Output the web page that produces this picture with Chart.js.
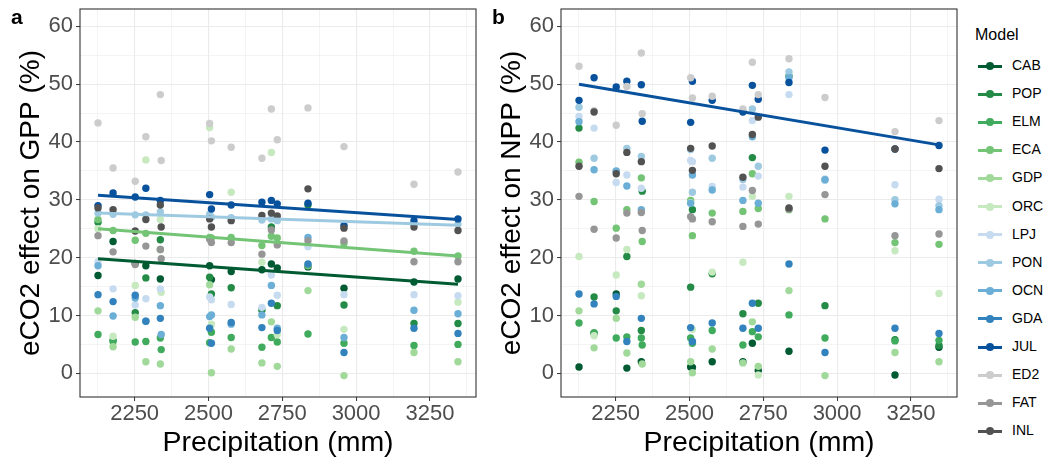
<!DOCTYPE html>
<html>
<head>
<meta charset="utf-8">
<script src="https://cdn.jsdelivr.net/npm/chart.js@4.4.1/dist/chart.umd.min.js"></script>
<style>
  html, body { margin: 0; padding: 0; background: #fff; }
  body { width: 1043px; height: 462px; position: relative; overflow: hidden;
         font-family: 'Liberation Sans', Arial, sans-serif; }
  .panel { position: absolute; top: 0; }
  #panel-a { left: 0; }
  #panel-b { left: 481px; }
  .tag { position: absolute; top: 5px; font-weight: bold; font-size: 21px; color: #000; }
  .legend-title { position: absolute; left: 975px; top: 26px; font-size: 16px; color: #000; }
  .legend-row { position: absolute; left: 976px; height: 20px; }
  .legend-row .line { position: absolute; left: 2px; top: 8.5px; width: 24px; height: 3px; }
  .legend-row .dot { position: absolute; left: 10px; top: 6px; width: 8px; height: 8px; border-radius: 50%; }
  .legend-row .lab { position: absolute; left: 36px; top: 1px; font-size: 14px; color: #000; }
</style>
</head>
<body>
<div class="panel" id="panel-a"><canvas id="chart-gpp" width="481" height="462"></canvas></div>
<div class="panel" id="panel-b"><canvas id="chart-npp" width="481" height="462"></canvas></div>
<div class="tag" style="left: 11px;">a</div>
<div class="tag" style="left: 492px;">b</div>
<div id="legend"></div>

<script>
// Models, in legend order
const MODELS = ['CAB', 'POP', 'ELM', 'ECA', 'GDP', 'ORC', 'LPJ', 'PON', 'OCN', 'GDA', 'JUL', 'ED2', 'FAT', 'INL'];
const MODEL_COLORS = [
  '#005a32', '#238b45', '#41ab5d', '#74c476', '#a1d99b', '#c7e9c0',
  '#c6dbef', '#9ecae1', '#6baed6', '#3182bd', '#08519c',
  '#cccccc', '#969696', '#525252'
];

// Site precipitation (mm)
const SITES = [2126, 2177, 2252, 2288, 2337, 2340, 2504, 2510, 2577, 2681, 2713, 2733, 2837, 2959, 3196, 3345];

// eCO2 effect on GPP (%), one row per model, one column per site
const GPP = [
  [16.9, 22.8, 19.0, 18.6, 16.3, null, 18.6, 16.2, 17.6, 17.9, 18.9, 18.2, 18.4, 14.7, 15.8, 16.3],
  [26.1, 5.7, 10.5, 16.5, 23.1, null, 16.6, 13.7, 14.8, 10.9, 25.3, 11.7, 29.1, 11.8, 8.6, 8.6],
  [6.7, 5.5, 5.4, 5.5, 6.1, 4.1, 5.3, 7.1, 6.2, 4.5, 6.2, 5.4, 6.8, 5.2, 4.8, 5.0],
  [26.6, 24.7, 23.0, 24.2, 21.4, null, 23.5, 23.4, 23.5, 22.1, 23.7, 23.4, 18.6, 22.5, 21.1, 20.3],
  [10.8, 4.6, 9.7, 2.0, 1.6, null, 15.3, 0.1, 4.2, 1.8, 8.9, 1.2, 14.3, -0.4, 3.6, 2.0],
  [25.0, 6.4, 15.2, 36.9, 26.6, 14.0, 42.5, 8.5, 31.3, 19.2, 38.2, 6.7, null, 7.6, null, 12.3],
  [19.3, 14.6, 11.8, 12.9, 14.6, null, 13.2, 12.7, 11.9, 11.4, 17.0, 13.5, 21.9, 13.6, 13.6, 13.4],
  [27.7, 27.5, 27.4, 27.4, 27.9, null, 27.5, 27.0, 26.9, 26.5, 26.7, 26.4, null, 25.7, 25.8, 25.8],
  [18.6, 9.9, 13.0, 9.0, 11.7, 6.7, 9.8, 10.1, 8.5, 10.1, 15.2, 7.8, 23.5, 6.2, 10.9, 10.3],
  [13.6, 12.4, 13.5, 9.0, 9.5, null, 7.8, 5.2, 8.8, 7.9, 12.1, 7.4, 18.9, 3.6, 7.8, 6.9],
  [29.0, 31.2, 30.5, 32.0, 29.9, null, 30.9, 28.4, 29.1, 29.6, 29.9, 29.3, 29.4, 25.5, 26.4, 26.7],
  [43.3, 35.5, 33.2, 40.9, 48.2, 36.8, 43.2, 40.2, 39.1, 37.2, 45.7, 40.4, 45.9, 39.2, 32.7, 34.8],
  [23.8, 21.0, 18.8, 22.0, 21.4, 19.8, 23.2, 22.6, 22.6, 20.6, 24.8, 22.2, 22.9, 22.9, 19.3, 19.3],
  [28.6, 28.3, 24.6, 26.6, 29.1, 25.3, 26.7, 25.3, 26.4, 27.3, 27.7, 27.2, 31.9, 25.1, 25.3, 24.7]
];

// eCO2 effect on NPP (%)
const NPP = [
  [1.1, 6.9, 13.7, 0.9, 2.0, null, 1.1, 1.0, 2.0, 2.0, 5.2, 0.5, 3.8, null, -0.3, 4.5],
  [42.4, 13.2, 10.8, 20.2, 7.4, 31.5, 14.9, 28.3, 17.2, 10.3, 37.3, 12.1, 51.4, 11.7, 5.8, 4.8],
  [8.7, 7.0, 6.1, 6.3, 6.1, 4.9, 6.1, 5.2, 7.4, 4.9, 7.2, 6.3, 10.1, 6.1, 5.6, 5.7],
  [36.5, 29.7, 25.1, 28.3, 33.8, 22.8, 29.9, 23.8, 27.7, 28.0, 34.5, 28.5, 28.3, 26.7, 22.6, 22.3],
  [10.8, 4.4, 9.5, 3.5, 15.4, 1.6, 2.0, 0.1, 4.2, 1.8, 8.9, 1.2, 14.3, -0.4, 3.6, 2.0],
  [20.2, 6.5, 17.0, 21.4, 13.4, null, 29.5, 7.6, 17.5, 19.2, 30.6, -0.3, 30.6, null, 21.2, 13.8],
  [44.4, 42.4, 33.0, 34.3, 32.0, null, 36.8, 36.6, 32.3, 32.2, 43.7, 34.1, 48.2, 33.6, 32.6, 30.1],
  [46.0, 37.2, 34.9, 38.9, 37.5, null, 38.7, 31.3, 37.2, 33.5, 45.7, 35.8, 52.1, 33.4, 30.0, 29.0],
  [43.5, 35.2, 35.0, 32.4, 28.3, null, 29.4, 34.3, 31.7, 29.9, 40.9, 29.4, 51.1, 33.5, 29.3, 28.3],
  [13.7, 12.0, 13.3, 5.5, 9.5, null, 7.9, 5.5, 8.7, 7.8, 12.1, 7.8, 18.9, 3.6, 7.8, 6.9],
  [47.2, 51.1, 49.5, 50.5, 49.9, 43.6, 43.4, 50.5, 47.2, 45.2, 49.8, 47.4, 50.3, 38.6, 38.8, 39.4],
  [53.1, 45.4, 42.9, 49.6, 55.4, 44.9, 51.1, 47.6, 47.9, 45.7, 53.8, 48.2, 54.4, 47.7, 41.8, 43.7],
  [30.6, 24.9, 23.4, 27.7, 27.8, 24.7, 27.1, 26.7, 26.2, 25.4, 31.6, 25.8, 28.4, 30.9, 23.8, 24.1],
  [35.8, 45.2, 34.5, 38.2, 36.6, null, 38.9, 35.1, 39.3, 33.9, 41.3, 44.3, 28.6, 35.8, 38.8, 35.4]
];

// Fitted trend lines (start and end value over the precipitation range)
const TREND_X = [2126, 3345];
const GPP_TREND_MODELS = ['JUL', 'PON', 'ECA', 'CAB'];
const GPP_TRENDS = [[30.8, 26.6], [27.7, 25.6], [25.0, 20.3], [19.8, 15.4]];
const NPP_TREND_MODELS = ['JUL'];
const NPP_TRENDS = [[50.0, 39.5]];

// Axis ticks (major + minor grid)
const X_TICKS = [2125, 2250, 2375, 2500, 2625, 2750, 2875, 3000, 3125, 3250, 3375];
const X_LABELS = [2250, 2500, 2750, 3000, 3250];
const Y_TICKS = [0, 5, 10, 15, 20, 25, 30, 35, 40, 45, 50, 55, 60];
const Y_LABELS = [0, 10, 20, 30, 40, 50, 60];

Chart.defaults.font.family = "'Liberation Sans', Arial, sans-serif";

// Panel border drawn on top, like theme_bw
const panelBorder = {
  id: 'panelBorder',
  afterDraw(chart) {
    const { ctx, chartArea: a } = chart;
    ctx.save();
    ctx.strokeStyle = '#333333';
    ctx.lineWidth = 1.1;
    ctx.strokeRect(a.left, a.top, a.right - a.left, a.bottom - a.top);
    ctx.restore();
  }
};

function gridStyle(labels) {
  const major = c => c.tick && labels.includes(c.tick.value);
  return {
    color: '#ebebeb',
    lineWidth: c => major(c) ? 1.1 : 0.55,
    drawTicks: true,
    tickLength: 4,
    tickWidth: 1,
    tickColor: c => major(c) ? '#333333' : 'rgba(0,0,0,0)'
  };
}

function renderPanel(canvasId, values, trendModels, trends, yTitle) {
  const ctx = document.getElementById(canvasId).getContext('2d');

  const trendSets = trendModels.map((m, k) => ({
    data: TREND_X.map((x, j) => ({ x, y: trends[k][j] })),
    showLine: true,
    borderColor: MODEL_COLORS[MODELS.indexOf(m)],
    borderWidth: 3,
    pointRadius: 0,
    order: 0
  }));

  const pointSets = MODELS.map((m, i) => ({
    label: m,
    data: SITES.map((x, j) => ({ x, y: values[i][j] })).filter(p => p.y !== null),
    backgroundColor: MODEL_COLORS[i],
    borderWidth: 0,
    pointRadius: 3.7,
    order: MODELS.length - i
  }));

  new Chart(ctx, {
    type: 'scatter',
    data: { datasets: [...trendSets, ...pointSets] },
    options: {
      responsive: false,
      animation: false,
      layout: { padding: { top: 9, right: 5, left: 0, bottom: 0 } },
      plugins: { legend: { display: false }, tooltip: { enabled: false } },
      scales: {
        x: {
          type: 'linear',
          min: 2065,
          max: 3406,
          afterBuildTicks: s => { s.ticks = X_TICKS.map(v => ({ value: v })); },
          afterFit: s => { s.height = 65; s.paddingLeft = 0; s.paddingRight = 0; },
          grid: gridStyle(X_LABELS),
          border: { display: false },
          ticks: {
            autoSkip: false,
            maxRotation: 0,
            padding: 0,
            color: '#4d4d4d',
            font: { size: 22 },
            callback: v => X_LABELS.includes(v) ? String(v) : ''
          },
          title: {
            display: true,
            text: 'Precipitation (mm)',
            color: '#000',
            font: { size: 28.5 },
            padding: { top: 0, bottom: 2 }
          }
        },
        y: {
          type: 'linear',
          min: -4.1,
          max: 63,
          afterBuildTicks: s => { s.ticks = Y_TICKS.map(v => ({ value: v })); },
          afterFit: s => { s.width = 80; s.paddingTop = 0; s.paddingBottom = 0; },
          grid: gridStyle(Y_LABELS),
          border: { display: false },
          ticks: {
            autoSkip: false,
            padding: 3,
            color: '#4d4d4d',
            font: { size: 22 },
            callback: v => Y_LABELS.includes(v) ? String(v) : ''
          },
          title: {
            display: true,
            text: yTitle,
            color: '#000',
            font: { size: 28 },
            padding: { top: 14, bottom: 0 }
          }
        }
      }
    },
    plugins: [panelBorder]
  });
}

function renderLegend() {
  const el = document.getElementById('legend');
  let html = '<div class="legend-title">Model</div>';
  MODELS.forEach((m, i) => {
    const top = 56 + i * 28.1;
    html += `<div class="legend-row" style="top:${top}px">` +
      `<div class="line" style="background:${MODEL_COLORS[i]}"></div>` +
      `<div class="dot" style="background:${MODEL_COLORS[i]}"></div>` +
      `<div class="lab">${m}</div></div>`;
  });
  el.innerHTML = html;
}

renderPanel('chart-gpp', GPP, GPP_TREND_MODELS, GPP_TRENDS, 'eCO2 effect on GPP (%)');
renderPanel('chart-npp', NPP, NPP_TREND_MODELS, NPP_TRENDS, 'eCO2 effect on NPP (%)');
renderLegend();
</script>
</body>
</html>
